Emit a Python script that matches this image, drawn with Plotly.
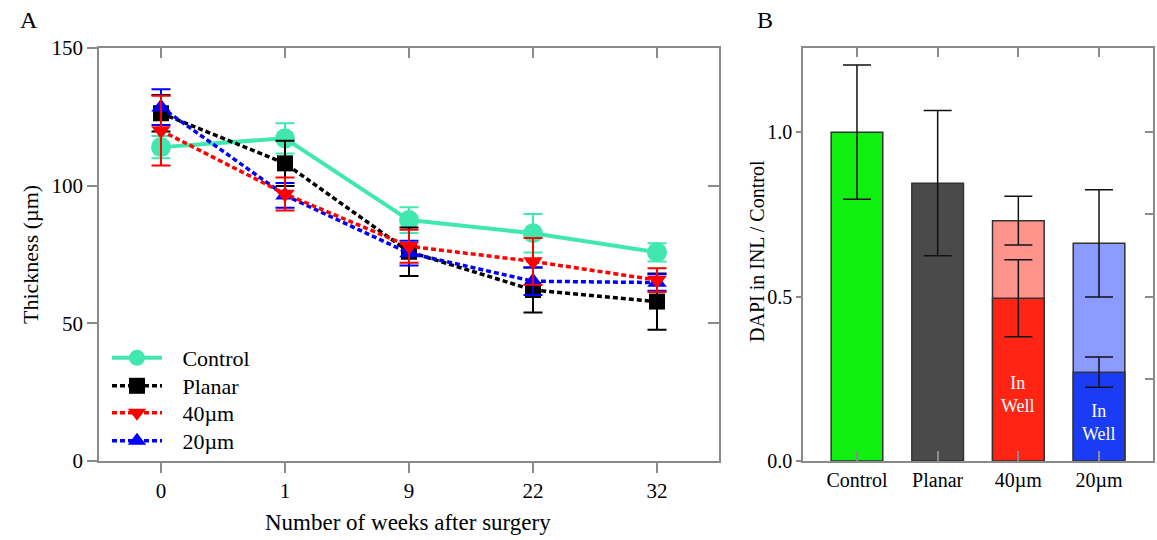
import plotly.graph_objects as go

# ---------------- Panel A data ----------------
weeks = ["0", "1", "9", "22", "32"]
control = [114.0, 117.2, 87.5, 82.7, 75.8]
control_err = [4.0, 5.5, 4.7, 7.0, 3.3]
planar = [126.3, 108.1, 76.0, 62.1, 57.9]
planar_err = [6.6, 8.2, 8.8, 8.2, 10.2]
um40 = [120.0, 97.0, 78.0, 72.5, 65.7]
um40_err = [12.7, 6.0, 6.0, 8.5, 4.3]
um20 = [128.5, 96.5, 75.5, 65.3, 64.8]
um20_err = [6.5, 4.5, 4.5, 5.0, 3.0]

# ---------------- Panel B data ----------------
groups = ["Control", "Planar", "40µm", "20µm"]
dapi_total = [1.0, 0.845, 0.731, 0.662]
dapi_total_err = [0.204, 0.221, 0.074, 0.163]
dapi_inwell = [None, None, 0.495, 0.27]
dapi_inwell_err = [0, 0, 0.117, 0.046]

FONT = "Liberation Serif"
AXC = "#8a8a8a"
W, H = 1157, 540


def px(x):
    return x / W


def py(y):
    return 1 - y / H


xi = list(range(len(weeks)))
gi = list(range(len(groups)))

fig = go.Figure()
PAD = "\u2002\u2009"


def line_trace(name, y, err, color, symbol, size, dash, width, legend):
    return go.Scatter(
        x=xi, y=y, name=PAD + name, mode="lines+markers",
        line=dict(color=color, width=width, dash=dash),
        marker=dict(symbol=symbol, size=size, color=color, line=dict(width=0)),
        error_y=dict(type="data", array=err, color=color, thickness=2, width=9.5),
        xaxis="x", yaxis="y", legend=legend,
    )


fig.add_trace(line_trace("Control", control, control_err, "#40e8b0", "circle", 20, "solid", 4, "legend"))
fig.add_trace(line_trace("Planar", planar, planar_err, "#000000", "square", 16, "5px,3px", 3.5, "legend2"))
fig.add_trace(line_trace("20µm", um20, um20_err, "#0000ff", "triangle-up", 17, "5px,3px", 3.5, "legend4"))
fig.add_trace(line_trace("40µm", um40, um40_err, "#ff0000", "triangle-down", 17, "5px,3px", 3.5, "legend3"))

# dummy traces so mirrored axes get drawn
fig.add_trace(go.Scatter(x=[None], y=[None], xaxis="x3", yaxis="y3", showlegend=False, hoverinfo="skip"))
fig.add_trace(go.Scatter(x=[None], y=[None], xaxis="x4", yaxis="y4", showlegend=False, hoverinfo="skip"))

# Panel B bars
fig.add_trace(go.Bar(
    x=gi, y=dapi_total, width=0.64, showlegend=False,
    marker=dict(color=["#10f010", "#4a4a4a", "#ff948c", "#8c9bff"], line=dict(color="#333333", width=1.5)),
    error_y=dict(type="data", array=dapi_total_err, color="#111111", thickness=1.5, width=14),
    xaxis="x2", yaxis="y2",
))
fig.add_trace(go.Bar(
    x=gi, y=dapi_inwell, width=0.64, showlegend=False,
    marker=dict(color=["#ff2414", "#ff2414", "#ff2414", "#1a3cf5"], line=dict(color="#333333", width=1.5)),
    error_y=dict(type="data", array=dapi_inwell_err, color="#111111", thickness=1.5, width=14),
    xaxis="x2", yaxis="y2",
))

ydom = [py(461), py(48)]
xdomA = [px(99), px(719)]
xdomB = [px(803), px(1153)]
tickA = dict(family=FONT, size=21, color="black")
tickB = dict(family=FONT, size=20, color="black")
rA = [-0.5, len(weeks) - 0.5]
rB = [-0.669, len(groups) - 1 + 0.669]

common = dict(showline=True, linecolor=AXC, linewidth=1.5, tickcolor=AXC, tickwidth=1.5,
              showgrid=False, zeroline=False, automargin=False)


def leg(y):
    return dict(x=px(107), y=py(y), xanchor="left", yanchor="middle",
                bgcolor="rgba(0,0,0,0)", font=dict(family=FONT, size=22, color="black"),
                itemwidth=50, borderwidth=0)


fig.update_layout(
    template="none",
    width=W, height=H, margin=dict(l=0, r=0, t=0, b=0, pad=0),
    paper_bgcolor="white", plot_bgcolor="white",
    barmode="overlay",
    font=dict(family=FONT, size=20, color="black"),
    xaxis=dict(domain=xdomA, range=rA, anchor="y", tickvals=xi, ticktext=weeks,
               ticks="outside", ticklen=10, tickfont=tickA, **common),
    yaxis=dict(domain=ydom, range=[0, 150], anchor="x", tickvals=[0, 50, 100, 150],
               ticks="outside", ticklen=10, tickfont=tickA, **common),
    xaxis3=dict(overlaying="x", side="top", range=rA, anchor="y", tickvals=xi,
                showticklabels=False, ticks="inside", ticklen=10, **common),
    yaxis3=dict(overlaying="y", side="right", range=[0, 150], anchor="x", tickvals=[50, 100],
                showticklabels=False, ticks="inside", ticklen=11, **common),
    xaxis2=dict(domain=xdomB, range=rB, anchor="y2", tickvals=gi, ticktext=groups,
                ticks="inside", ticklen=10, tickfont=tickB, **common),
    yaxis2=dict(domain=ydom, range=[0, 1.256], anchor="x2", tickvals=[0, 0.5, 1.0],
                ticktext=["0.0", "0.5", "1.0"], ticks="outside", ticklen=5, tickfont=tickB, **common),
    xaxis4=dict(overlaying="x2", side="top", range=rB, anchor="y2", tickvals=gi,
                showticklabels=False, ticks="inside", ticklen=9, **common),
    yaxis4=dict(overlaying="y2", side="right", range=[0, 1.256], anchor="x2",
                tickvals=[0.25, 0.5, 0.75, 1.0], showticklabels=False, ticks="inside", ticklen=8, **common),
    legend=leg(358),
    legend2=leg(386),
    legend3=leg(413),
    legend4=leg(441),
)

ann = [
    dict(text="A", x=px(29), y=py(20), size=24, angle=0),
    dict(text="B", x=px(765), y=py(20), size=24, angle=0),
    dict(text="Thickness (µm)", x=px(30), y=py(255), size=22, angle=-90),
    dict(text="Number of weeks after surgery", x=px(408), y=py(522), size=23, angle=0),
    dict(text="DAPI in INL / Control", x=px(757), y=py(251), size=20, angle=-90),
]
for a in ann:
    fig.add_annotation(text=a["text"], x=a["x"], y=a["y"], xref="paper", yref="paper",
                       showarrow=False, textangle=a["angle"], xanchor="center", yanchor="middle",
                       font=dict(family=FONT, size=a["size"], color="black"))

# "In Well" labels inside the in-well bars
for i, v in enumerate(dapi_inwell):
    if v is not None:
        fig.add_annotation(text="In<br>Well", x=gi[i], y=v * (0.41 if i == 2 else 0.43),
                           xref="x2", yref="y2", showarrow=False,
                           font=dict(family=FONT, size=18, color="white"))

# remove the default page margin so the 1157x540 figure fills the window exactly
fig.write_html(
    "out.html",
    config={"displayModeBar": False},
    post_script="document.body.style.margin='0';document.documentElement.style.overflow='hidden';",
)
